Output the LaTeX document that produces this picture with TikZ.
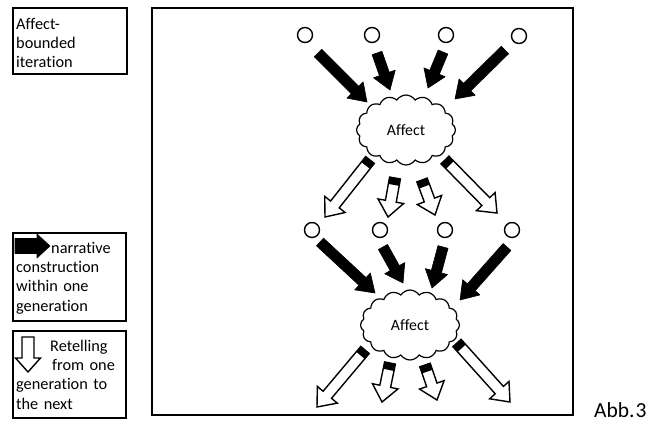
\documentclass[tikz,border=0pt]{standalone}
\usepackage{fontspec}
\setmainfont[Ligatures=NoCommon]{Carlito}
\usetikzlibrary{calc,shapes.symbols}

% style, tail, tip, shaft half width, head half width, head length
\newcommand\blockarrow[6]{%
 \draw[#1] ($(#2)!#4!90:(#3)$) -- ($(#3)!#6!(#2)!#4!-90:(#2)$) -- ($(#3)!#6!(#2)!#5!-90:(#2)$) -- (#3) -- ($(#3)!#6!(#2)!#5!90:(#2)$) -- ($(#3)!#6!(#2)!#4!90:(#2)$) -- ($(#2)!#4!-90:(#3)$) -- cycle;}
\newcommand\whitearrow[2]{%
 \blockarrow{warrow}{#1}{#2}{5.5pt}{13pt}{16pt}%
 \fill[black] ($(#1)!5.5pt!90:(#2)$) -- ($(#1)!7pt!(#2)!5.5pt!-90:(#1)$) -- ($(#1)!7pt!(#2)!5.5pt!90:(#1)$) -- ($(#1)!5.5pt!-90:(#2)$) -- cycle;}
\newcommand\blackarrow[2]{\blockarrow{barrow}{#1}{#2}{5.2pt}{11.5pt}{17pt}}

\tikzset{
 frame/.style={draw=black, line width=1.6pt},
 legendbox/.style={draw=black, line width=1.5pt},
 legendtext/.style={anchor=north west, inner sep=0pt, text width=110pt, align=left, font=\fontsize{16.3}{19.3}\selectfont},
 dot/.style={circle, draw=black, line width=1.4pt, minimum size=15pt, inner sep=0pt},
 affect/.style={cloud, draw=black, line width=1.2pt, cloud puffs=16, cloud puff arc=115, minimum width=99pt, minimum height=70pt, aspect=1.4, inner sep=0pt, font=\fontsize{15.8}{18}\selectfont},
 barrow/.style={fill=black, draw=black, line width=0.6pt, line join=round},
 warrow/.style={fill=white, draw=black, line width=1.4pt, line join=miter},
}

\begin{document}
\begin{tikzpicture}[x=1pt, y=-1pt]
\useasboundingbox (0,0) rectangle (648,421);

% legend boxes
\draw[legendbox] (13,8) rectangle (127,74);
\node[legendtext] (t1) at (16,17) {\rule{0pt}{12pt}Affect-\\bounded\\iteration};

\draw[legendbox] (13,233) rectangle (126,321);
\coordinate (lb1) at (15,246);
\coordinate (lb2) at (50,246);
\blockarrow{barrow}{lb1}{lb2}{7.5pt}{12pt}{13pt}
\node[legendtext] (t2) at (16,241) {\rule{0pt}{12pt}\hspace*{35pt}narrative\\construction\\within one\\generation};

\draw[legendbox] (13,331) rectangle (126,418);
\coordinate (lw1) at (28,337);
\coordinate (lw2) at (28,372);
\blockarrow{warrow}{lw1}{lw2}{6pt}{12.5pt}{14pt}
\node[legendtext] (t3) at (16,339) {\rule{0pt}{12pt}\hspace*{34pt}Retelling\\\hspace*{36pt}from one\\generation to\\the next};

% main frame
\draw[frame] (152,8) rectangle (573,415);
\node[anchor=base west, inner sep=0pt, font=\fontsize{21.5}{24}\selectfont] (abb) at (594,417) {Abb.\kern1pt3};

% circles
\node[dot] (c1) at (305,35) {};
\node[dot] (c2) at (372,35) {};
\node[dot] (c3) at (446,35) {};
\node[dot] (c4) at (519,36) {};
\node[dot] (c5) at (312,230) {};
\node[dot] (c6) at (380,230) {};
\node[dot] (c7) at (445,230) {};
\node[dot] (c8) at (512,230) {};

% clouds
\node[affect] (af1) at (406,130) {Affect};
\node[affect] (af2) at (410,325) {Affect};

% arrow end points
\coordinate (a1s) at (318,53);  \coordinate (a1e) at (367,102);
\coordinate (a2s) at (377,53);  \coordinate (a2e) at (390,90);
\coordinate (a3s) at (443,52);  \coordinate (a3e) at (428,88);
\coordinate (a4s) at (505,50);  \coordinate (a4e) at (455,99);
\coordinate (b1s) at (320,242); \coordinate (b1e) at (375,293);
\coordinate (b2s) at (383,247); \coordinate (b2e) at (403,283);
\coordinate (b3s) at (443,247); \coordinate (b3e) at (432,288);
\coordinate (b4s) at (507,247); \coordinate (b4e) at (460,300);

\coordinate (w1s) at (370,160); \coordinate (w1e) at (325,217);
\coordinate (w2s) at (395,178); \coordinate (w2e) at (388,217);
\coordinate (w3s) at (422,180); \coordinate (w3e) at (435,215);
\coordinate (w4s) at (445,160); \coordinate (w4e) at (497,213);
\coordinate (v1s) at (365,350); \coordinate (v1e) at (317,407);
\coordinate (v2s) at (390,363); \coordinate (v2e) at (382,402);
\coordinate (v3s) at (425,365); \coordinate (v3e) at (437,400);
\coordinate (v4s) at (457,343); \coordinate (v4e) at (510,402);

\blackarrow{a1s}{a1e}
\blackarrow{a2s}{a2e}
\blackarrow{a3s}{a3e}
\blackarrow{a4s}{a4e}
\blackarrow{b1s}{b1e}
\blackarrow{b2s}{b2e}
\blackarrow{b3s}{b3e}
\blackarrow{b4s}{b4e}

\whitearrow{w1s}{w1e}
\whitearrow{w2s}{w2e}
\whitearrow{w3s}{w3e}
\whitearrow{w4s}{w4e}
\whitearrow{v1s}{v1e}
\whitearrow{v2s}{v2e}
\whitearrow{v3s}{v3e}
\whitearrow{v4s}{v4e}
\end{tikzpicture}
\end{document}
